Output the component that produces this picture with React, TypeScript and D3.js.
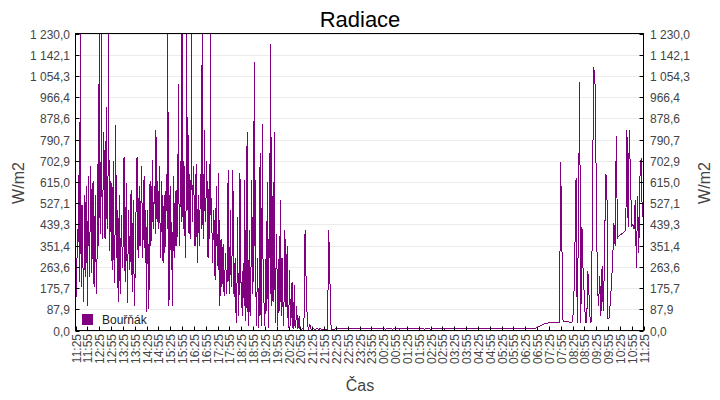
import React from "react";
import * as d3 from "d3";

const TITLE = "Radiace";
const SERIES_NAME = "Bouřňák";
const Y_TITLE = "W/m2";
const X_TITLE = "Čas";
const START = new Date(2024, 6, 15, 11, 25);
const SPAN_MIN = 1440;
const Y_MAX = 1230;
const Y_TICK_COUNT = 14;
const X_TICK_STEP_MIN = 30;
const X_TICK_COUNT = 49;

// W/m2, readings every 1.5 minutes from 11:25 (daytime, storm-broken sunshine)
const DAY_STEP_MIN = 1.5;
const dayRadiation: number[] = [
  460, 250, 140, 420, 300, 560, 650, 200, 1230, 380, 180, 520, 480, 160, 120, 450, 560, 220, 300, 600,
  100, 420, 640, 300, 220, 560, 680, 240, 300, 600, 620, 200, 180, 480, 560, 150, 170, 520, 690, 350,
  1230, 520, 400, 620, 1230, 380, 450, 700, 820, 420, 380, 600, 926, 480, 420, 650, 1230, 400, 330, 560,
  620, 380, 250, 520, 700, 300, 197, 450, 850, 420, 300, 500, 120, 350, 560, 220, 150, 400, 480, 260,
  280, 500, 720, 350, 200, 450, 610, 300, 115, 380, 500, 260, 250, 480, 580, 300, 160, 420, 540, 200,
  100, 300, 450, 600, 720, 400, 300, 520, 600, 350, 420, 580, 680, 300, 350, 560, 640, 400, 280, 500,
  72, 300, 500, 250, 90, 400, 620, 350, 380, 550, 708, 450, 420, 580, 600, 400, 830, 500, 450, 620,
  420, 560, 680, 400, 300, 500, 620, 350, 280, 450, 560, 320, 400, 580, 650, 420, 1230, 300, 100, 450,
  600, 400, 250, 450, 100, 380, 640, 420, 300, 550, 580, 350, 420, 620, 1022, 500, 350, 600, 700, 450,
  1230, 600, 420, 700, 650, 400, 300, 550, 1230, 500, 885, 420, 400, 650, 600, 380, 1230, 550, 450, 680,
  620, 420, 350, 560, 690, 450, 280, 500, 560, 350, 400, 620, 650, 420, 1230, 500, 380, 600, 830, 450,
  450, 620, 700, 400, 300, 520, 620, 380, 1230, 480, 550, 350, 280, 500, 480, 300, 210, 420, 600, 350,
  400, 250, 651, 300, 100, 280, 380, 180, 200, 340, 360, 160, 142, 300, 320, 150, 180, 420, 665, 250,
  150, 320, 499, 180, 200, 400, 665, 260, 140, 250, 300, 90, 32, 200, 471, 120, 60, 300, 651, 200,
  200, 120, 60, 240, 280, 100, 623, 200, 40, 300, 823, 150, 18, 250, 417, 60, 100, 350, 623, 150,
  417, 200, 1110, 350, 623, 150, 18, 200, 300, 40, 10, 300, 735, 120, 20, 400, 857, 250, 200, 60,
  20, 180, 300, 80, 616, 200, 10, 350, 735, 150, 1187, 300, 100, 250, 616, 120, 823, 200, 30, 280,
  400, 150, 20, 200, 300, 80, 541, 150, 60, 300, 250, 40, 20, 250, 417, 100, 100, 280, 350, 60,
  10, 120, 250, 40, 20, 150, 200, 15, 5, 80, 190, 20, 10, 60, 100, 10, 8, 30, 60, 8,
];

// W/m2, readings every 3 minutes from 20:55 to 11:25 next day
const NIGHT_START_OFFSET_MIN = 570;
const NIGHT_STEP_MIN = 3;
const nightMorningRadiation: number[] = [
  6, 6, 8, 5, 417, 180, 20, 8, 25, 6,
  6, 7, 6, 6, 7, 6, 6, 7, 6, 6,
  6, 6, 6, 6, 417, 210, 6, 6, 6, 6,
  7, 7, 6, 7, 7, 7, 6, 7, 7, 7,
  7, 6, 7, 7, 7, 7, 7, 6, 7, 7,
  7, 7, 7, 6, 7, 7, 7, 7, 7, 7,
  6, 7, 7, 7, 7, 6, 7, 7, 7, 7,
  7, 7, 6, 7, 7, 7, 7, 7, 6, 7,
  7, 7, 7, 7, 6, 7, 7, 7, 7, 7,
  7, 6, 7, 7, 7, 7, 7, 6, 7, 7,
  7, 7, 7, 7, 7, 6, 7, 7, 7, 7,
  6, 7, 7, 7, 7, 7, 7, 7, 6, 7,
  7, 7, 6, 7, 7, 7, 7, 7, 7, 7,
  7, 7, 7, 7, 6, 7, 7, 7, 7, 6,
  7, 7, 7, 7, 7, 7, 6, 7, 7, 7,
  7, 6, 7, 7, 7, 7, 7, 7, 7, 7,
  7, 7, 7, 6, 7, 7, 7, 7, 7, 7,
  7, 7, 7, 7, 7, 7, 7, 6, 7, 7,
  7, 7, 7, 7, 7, 7, 7, 7, 7, 7,
  7, 7, 7, 7, 7, 7, 8, 8, 8, 9,
  12, 15, 18, 20, 22, 25, 27, 29, 30, 31,
  32, 32, 33, 33, 33, 34, 34, 34, 35, 35,
  699, 369, 38, 38, 38, 37, 36, 35, 34, 34,
  36, 100, 327, 630, 32, 433, 1029, 32, 430, 238,
  142, 32, 34, 245, 142, 34, 36, 637, 1091, 1032,
  644, 197, 100, 224, 59, 265, 80, 279, 644, 637,
  50, 52, 120, 200, 300, 444, 350, 805, 383, 390,
  395, 398, 402, 405, 410, 415, 830, 430, 830, 630,
  430, 440, 420, 541, 260, 555, 321, 637, 715, 472,
  578,
];

type Pt = { t: Date; v: number };

export default function App() {
  const W = 720;
  const H = 400;
  const left = 75.5;
  const right = 643.5;
  const top = 33.5;
  const bottom = 330.5;
  const font = "'Liberation Sans', Arial, sans-serif";

  const end = d3.timeMinute.offset(START, SPAN_MIN);
  const x = d3.scaleTime().domain([START, end]).range([left, right]);
  const y = d3.scaleLinear().domain([0, Y_MAX]).range([bottom, top]);

  const at = (min: number) => new Date(START.getTime() + min * 60000);
  const data: Pt[] = [
    ...dayRadiation.map((v, i) => ({ t: at(i * DAY_STEP_MIN), v })),
    ...nightMorningRadiation.map((v, i) => ({ t: at(NIGHT_START_OFFSET_MIN + i * NIGHT_STEP_MIN), v })),
  ];
  const line = d3
    .line<Pt>()
    .x((d) => x(d.t))
    .y((d) => y(Math.min(d.v, Y_MAX)));

  const locale = d3.formatLocale({
    decimal: ",",
    thousands: " ",
    grouping: [3],
    currency: ["", ""],
  });
  const fmt = locale.format(",.1f");
  const yTicks = d3.range(Y_TICK_COUNT + 1).map((i) => (i * Y_MAX) / Y_TICK_COUNT);
  const xTicks = d3
    .range(X_TICK_COUNT)
    .map((i) => d3.timeMinute.offset(START, i * X_TICK_STEP_MIN));
  const tfmt = d3.timeFormat("%H:%M");

  return (
    <svg width={W} height={H} style={{ display: "block", position: "absolute", left: 0, top: 0 }} fontFamily={font}>
      <style>{`body{margin:0}`}</style>
      <rect x={0} y={0} width={W} height={H} fill="#fff" />
      <text x={360} y={27} textAnchor="middle" fontSize={22} fill="#000">
        {TITLE}
      </text>
      {yTicks.map((t, i) => (
        <line key={"g" + i} x1={left} x2={right} y1={Math.round(y(t)) + 0.5} y2={Math.round(y(t)) + 0.5} stroke="#ebebeb" strokeWidth={1} />
      ))}
      <defs>
        <clipPath id="plotclip">
          <rect x={left} y={top} width={right - left} height={bottom - top} />
        </clipPath>
      </defs>
      <path d={line(data) || ""} fill="none" stroke="#800080" strokeWidth={1} shapeRendering="crispEdges" clipPath="url(#plotclip)" />
      <rect x={80} y={312} width={70} height={15} fill="#fff" />
      <rect x={82} y={314} width={11} height={11} fill="#800080" />
      <text x={102} y={324} fontSize={12} fill="#222">
        {SERIES_NAME}
      </text>
      <rect x={left} y={top} width={right - left} height={bottom - top} fill="none" stroke="#000" strokeWidth={1} />
      {yTicks.map((t, i) => {
        const yy = Math.round(y(t)) + 0.5;
        return (
          <g key={"y" + i}>
            <line x1={left} x2={left + 4} y1={yy} y2={yy} stroke="#000" />
            <line x1={right - 4} x2={right} y1={yy} y2={yy} stroke="#000" />
            <text x={70} y={yy} dy="0.35em" textAnchor="end" fontSize={12} fill="#444">
              {fmt(t)}
            </text>
            <text x={650} y={yy} dy="0.35em" textAnchor="start" fontSize={12} fill="#444">
              {fmt(t)}
            </text>
          </g>
        );
      })}
      {xTicks.map((t, i) => {
        const xx = Math.round(x(t)) + 0.5;
        return (
          <g key={"x" + i}>
            <line x1={xx} x2={xx} y1={bottom - 4} y2={bottom} stroke="#000" />
            <text transform={`translate(${xx},334) rotate(-90)`} dy="0.35em" textAnchor="end" fontSize={12} fill="#444">
              {tfmt(t)}
            </text>
          </g>
        );
      })}
      <text transform={`translate(24,183) rotate(-90)`} textAnchor="middle" fontSize={16} fill="#444">
        {Y_TITLE}
      </text>
      <text transform={`translate(710,183) rotate(-90)`} textAnchor="middle" fontSize={16} fill="#444">
        {Y_TITLE}
      </text>
      <text x={360} y={391} textAnchor="middle" fontSize={16} fill="#444">
        {X_TITLE}
      </text>
    </svg>
  );
}
